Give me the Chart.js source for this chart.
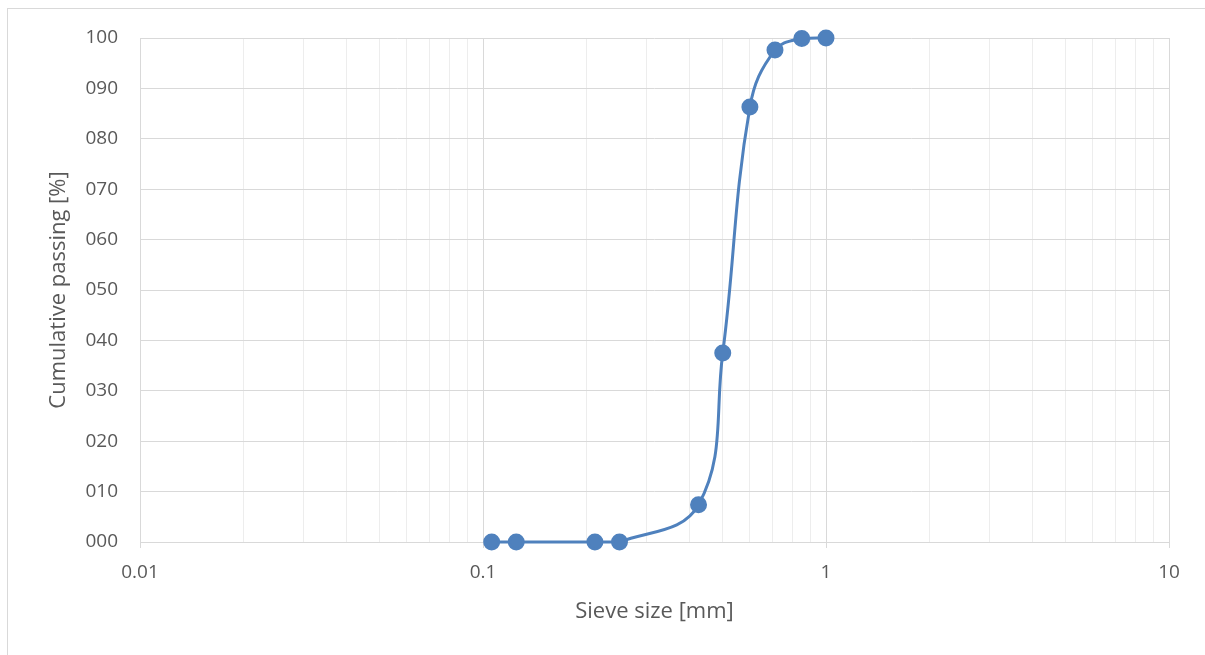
<!DOCTYPE html>
<html>
<head>
<meta charset="utf-8">
<script src="https://cdn.jsdelivr.net/npm/chart.js@4"></script>
<style>
  html, body { margin: 0; padding: 0; background: #fff; }
  #wrap { position: relative; width: 1205px; height: 655px; overflow: hidden; }
  #frame { position: absolute; left: 7px; top: 8px; width: 1300px; height: 700px; border: 1px solid #d9d9d9; box-sizing: border-box; }
  canvas { position: absolute; left: 0; top: 0; }
</style>
</head>
<body>
<div id="wrap">
  <div id="frame"></div>
  <canvas id="sieveChart" width="1205" height="655"></canvas>
</div>
<script>
// sieve sizes [mm] and cumulative passing [%]
const sieveSizes = [0.106, 0.125, 0.212, 0.25, 0.425, 0.5, 0.6, 0.71, 0.85, 1.0];
const passing = [0, 0, 0, 0, 7.4, 37.5, 86.3, 97.6, 99.9, 100];

const xTickValues = [];
[0.01, 0.1, 1].forEach(d => {
  for (let m = 1; m <= 9; m++) xTickValues.push(+(d * m).toPrecision(3));
});
xTickValues.push(10);
const decades = [0.01, 0.1, 1, 10];

const isDecade = v => decades.some(d => Math.abs(d - v) < 1e-9);
const fontFamily = "'Open Sans', 'Noto Sans', sans-serif";
const textColor = '#595959';

const ctx = document.getElementById('sieveChart').getContext('2d');
new Chart(ctx, {
  type: 'scatter',
  data: {
    datasets: [{
      data: sieveSizes.map((s, i) => ({ x: s, y: passing[i] })),
      showLine: true,
      borderColor: '#4f81bd',
      backgroundColor: '#4f81bd',
      borderWidth: 3,
      pointRadius: 7,
      pointHoverRadius: 7,
      tension: 0.4,
      clip: false
    }]
  },
  options: {
    responsive: false,
    animation: false,
    layout: { padding: { top: 38, right: 36, left: 0, bottom: 0 } },
    plugins: { legend: { display: false }, tooltip: { enabled: false } },
    scales: {
      x: {
        type: 'logarithmic',
        min: 0.01,
        max: 10,
        afterBuildTicks: axis => { axis.ticks = xTickValues.map(v => ({ value: v, major: isDecade(v) })); },
        afterFit: axis => { axis.height = 113; },
        ticks: {
          autoSkip: false,
          maxRotation: 0,
          padding: 13,
          color: textColor,
          font: { family: fontFamily, size: 19 },
          callback: v => isDecade(v) ? String(v) : ''
        },
        grid: {
          color: c => isDecade(c.tick.value) ? '#d9d9d9' : '#ededed',
          tickColor: c => isDecade(c.tick.value) ? '#d9d9d9' : 'rgba(0,0,0,0)',
          tickLength: 6,
          lineWidth: 1
        },
        border: { color: '#d9d9d9', width: 1 },
        title: {
          display: true,
          text: 'Sieve size [mm]',
          color: textColor,
          font: { family: fontFamily, size: 22 },
          padding: { top: 0, bottom: 30 }
        }
      },
      y: {
        min: 0,
        max: 100,
        afterFit: axis => { axis.width = 140; },
        ticks: {
          stepSize: 10,
          padding: 22,
          color: textColor,
          font: { family: fontFamily, size: 19 },
          callback: v => String(v).padStart(3, '0')
        },
        grid: { color: '#d9d9d9', drawTicks: false, lineWidth: 1 },
        border: { display: false },
        title: {
          display: true,
          text: 'Cumulative passing [%]',
          color: textColor,
          font: { family: fontFamily, size: 22 },
          padding: { top: 46, bottom: 0 }
        }
      }
    }
  }
});
</script>
</body>
</html>
